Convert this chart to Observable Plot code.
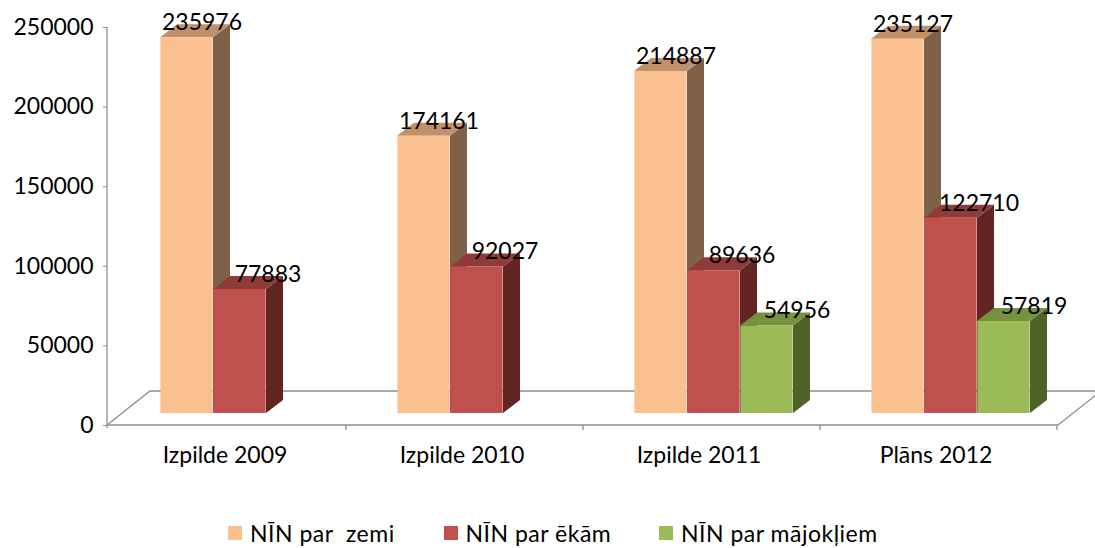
<!DOCTYPE html>
<html><head><meta charset="utf-8">
<script src="https://cdn.jsdelivr.net/npm/d3@7"></script>
<script src="https://cdn.jsdelivr.net/npm/@observablehq/plot@0.6"></script>
<style>
html,body{margin:0;padding:0;background:#fff;overflow:hidden;font-family:Lato,"Open Sans",sans-serif;}
#chart svg{display:block;}
#legend{height:28px;padding-top:19px;display:flex;align-items:center;padding-left:228px;color:#000;}
.item{width:215.5px;display:flex;align-items:center;font-size:23px;letter-spacing:0.5px;white-space:pre;font-family:Lato,sans-serif;flex:none;}
.sw{width:14px;height:14px;margin-right:8px;flex:none;}
</style></head><body>
<div id="chart"></div>
<div id="legend"></div>
<script>
// ---- data ----
const categories = ["Izpilde 2009", "Izpilde 2010", "Izpilde 2011", "Plāns 2012"];
const seriesNames = ["NĪN par  zemi", "NĪN par ēkām", "NĪN par mājokļiem"];
const zemi = [235976, 174161, 214887, 235127];
const ekam = [77883, 92027, 89636, 122710];
const majokliem = [null, null, 54956, 57819];
const yTicks = [0, 50000, 100000, 150000, 200000, 250000];

// ---- styles ----
const frontColors = ["#FAC090", "#C0504D", "#9BBB59"];
const sideColors = ["#7E6148", "#632523", "#4F6228"];
const topColors = ["#C0906A", "#8E3B39", "#76923C"];
const labelDx = [15, 28, 30];
const W = 1095, H = 500, ML = 107, MR = 37, MT = 27, MB = 75;
const BAR_W = 53, BDX = 12, BDY = -12, DDX = 17, DDY = -13;
const FLOOR_DX = 43, FLOOR_DY = -34;
const GRAY = "#8E8E8E";

const seriesValues = [zemi, ekam, majokliem];
const rows = seriesNames.map((s, i) =>
  categories.map((c, j) => ({cat: c, series: s, si: i, value: seriesValues[i][j]}))
    .filter(d => d.value != null));

const bw = (W - ML - MR) / categories.length;
const groupOffset = (bw - BAR_W * seriesNames.length) / 2;

function faces(i) {
  return (index, scales, values, dims) => {
    const g = d3.create("svg:g");
    const band = scales.x.bandwidth ? scales.x.bandwidth() : bw;
    const off = (band - BAR_W * seriesNames.length) / 2;
    for (const d of rows[i]) {
      const x1 = scales.x(d.cat) + off + BAR_W * i + BDX;
      const x2 = x1 + BAR_W;
      const yt = scales.y(d.value) + BDY, yb = scales.y(0) + BDY;
      g.append("polygon")
        .attr("points", [[x2, yt], [x2 + DDX, yt + DDY], [x2 + DDX, yb + DDY], [x2, yb]].join(" "))
        .attr("fill", sideColors[i]);
      g.append("polygon")
        .attr("points", [[x1, yt], [x1 + DDX, yt + DDY], [x2 + DDX, yt + DDY], [x2, yt]].join(" "))
        .attr("fill", topColors[i]);
    }
    return g.node();
  };
}

function floorAndAxes(index, scales, values, dims) {
  const g = d3.create("svg:g").attr("fill", "none").attr("stroke", GRAY).attr("stroke-width", 1.3);
  const x0 = dims.marginLeft, x1 = dims.width - dims.marginRight;
  const y0 = scales.y(0), yTop = scales.y(yTicks[yTicks.length - 1]);
  g.append("path").attr("d",
    `M${x0},${y0}L${x0 + FLOOR_DX},${y0 + FLOOR_DY}L${x1 + FLOOR_DX},${y0 + FLOOR_DY}L${x1},${y0}`);
  g.append("path").attr("d", `M${x0},${y0}L${x1},${y0}`);
  g.append("path").attr("d", `M${x0},${yTop}L${x0},${y0 + 3}`);
  const band = scales.x.bandwidth ? scales.x.bandwidth() : bw;
  for (const c of categories) {
    const xb = scales.x(c) + band;
    g.append("path").attr("d", `M${xb},${y0}L${xb},${y0 + 5}`);
  }
  return g.node();
}

const marks = [floorAndAxes];
rows.forEach((r, i) => {
  marks.push(faces(i));
  marks.push(Plot.barY(r, {
    x: "cat", y1: 0, y2: "value", fill: frontColors[i],
    insetLeft: groupOffset + BAR_W * i,
    insetRight: bw - groupOffset - BAR_W * (i + 1),
    dx: BDX, dy: BDY
  }));
});
rows.forEach((r, i) => {
  marks.push(Plot.text(r, {
    x: "cat", y: "value", text: d => String(d.value),
    dx: -bw / 2 + groupOffset + BAR_W * i + BAR_W / 2 + BDX + labelDx[i],
    dy: BDY - 15, fontSize: 23, fill: "#000"
  }));
});
marks.push(Plot.axisY({ticks: yTicks, tickSize: 4, tickPadding: 10, tickFormat: d => String(d),
  fontSize: 23, stroke: GRAY, fill: "#000", label: null}));
marks.push(Plot.axisX({tickSize: 0, tickPadding: 21, fontSize: 23, fill: "#000", label: null,
  letterSpacing: 0.4, dx: -3}));

const chart = Plot.plot({
  width: W, height: H,
  marginLeft: ML, marginRight: MR, marginTop: MT, marginBottom: MB,
  style: {fontFamily: "Lato, sans-serif", color: "#000", background: "#fff", overflow: "visible"},
  x: {domain: categories, padding: 0},
  y: {domain: [0, yTicks[yTicks.length - 1]]},
  marks
});
document.getElementById("chart").append(chart);

const legend = d3.select("#legend");
seriesNames.forEach((s, i) => {
  const it = legend.append("div").attr("class", "item");
  it.append("div").attr("class", "sw").style("background", frontColors[i]);
  it.append("span").text(s);
});
</script>
</body></html>
